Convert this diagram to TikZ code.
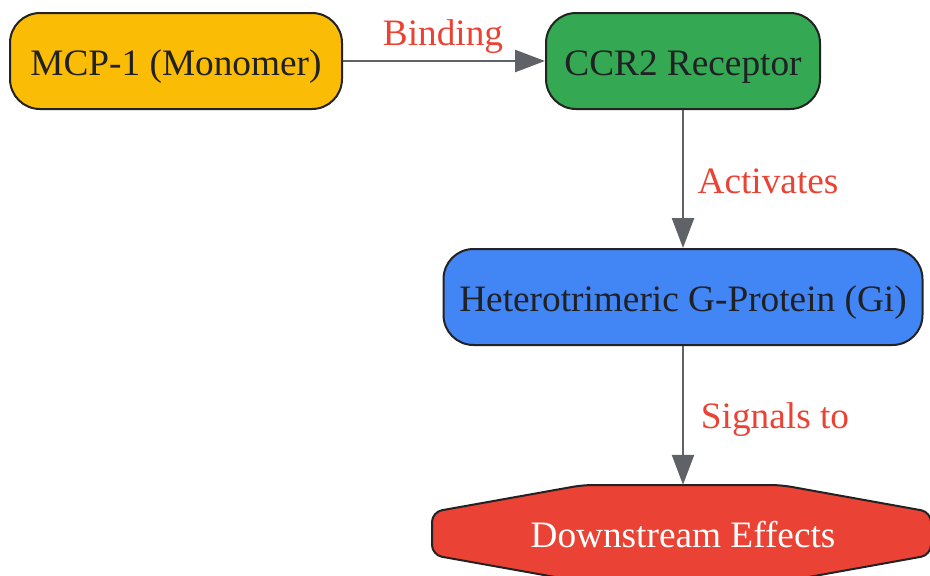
\documentclass[tikz,border=0pt]{standalone}
\usepackage{fontspec}
\setmainfont{Liberation Serif}
\usetikzlibrary{arrows.meta}
\definecolor{cyellow}{HTML}{FBBC05}
\definecolor{cgreen}{HTML}{34A853}
\definecolor{cblue}{HTML}{4285F4}
\definecolor{cred}{HTML}{EA4335}
\definecolor{cgray}{HTML}{5F6368}
\definecolor{cborder}{HTML}{222222}
\definecolor{ctext}{HTML}{202124}
\begin{document}
\begin{tikzpicture}[x=1pt,y=-1pt,
  box/.style={draw=cborder, line width=2pt, rounded corners=30pt, minimum height=96pt,
    inner sep=0pt, text=ctext, text height=28pt, text depth=0pt,
    font=\fontsize{37.3}{40}\selectfont},
  edge/.style={draw=cgray, line width=2.5pt, -{Triangle[length=30pt,width=22pt]}},
  elabel/.style={text=cred, font=\fontsize{37.3}{40}\selectfont, inner sep=0pt,
    text height=25pt, text depth=0pt}]
\useasboundingbox (0,0) rectangle (930,576);
\node[box, fill=cyellow, minimum width=332pt] (mcp) at (176,61) {MCP-1 (Monomer)};
\node[box, fill=cgreen, minimum width=274pt] (ccr) at (683,61) {CCR2 Receptor};
\node[box, fill=cblue, minimum width=479pt] (gp) at (683,297) {Heterotrimeric G-Protein (Gi)};
\fill[cred, draw=cborder, line width=2pt, rounded corners=10pt]
  (583,485) -- (781,485) -- (931,512) -- (931,555) -- (781,582) -- (583,582)
  -- (432,555) -- (432,512) -- cycle;
\node[inner sep=0pt, minimum height=96pt, minimum width=200pt, text=white,
  text height=28pt, text depth=0pt,
  font=\fontsize{37.3}{40}\selectfont] (down) at (683,533) {Downstream Effects};
\draw[edge] (mcp.east) -- (ccr.west);
\draw[edge] (ccr.south) -- (gp.north);
\draw[edge] (gp.south) -- (down.north);
\node[elabel] (lb) at (443,32.5) {Binding};
\node[elabel] (la) at (768,180.5) {Activates};
\node[elabel] (ls) at (775,415.5) {Signals to};
\end{tikzpicture}
\end{document}
